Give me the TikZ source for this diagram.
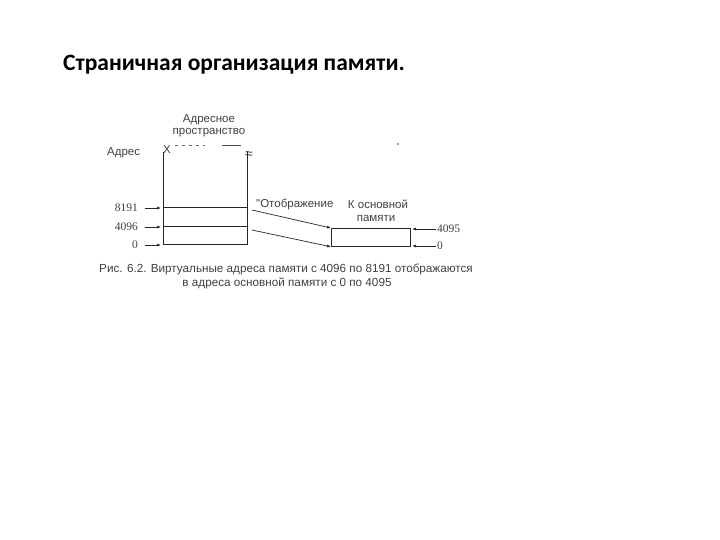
\documentclass[tikz,border=0pt]{standalone}
\usepackage{fontspec}
\setmainfont{Liberation Sans}
\newfontfamily\titlefont{Carlito}
\newfontfamily\numfont{Liberation Serif}
\usetikzlibrary{arrows.meta}
\begin{document}
\begin{tikzpicture}[x=1pt,y=-1pt,
  lbl/.style={inner sep=0pt,font=\fontsize{11.5}{13}\selectfont,text=black!75},
  num/.style={inner sep=0pt,font=\numfont\fontsize{11.5}{13}\selectfont,text=black!75},
  ln/.style={line width=0.8pt,black!85},
  arr/.style={-{Latex[length=4pt,width=3pt]},line width=0.7pt,black!85}]
\useasboundingbox (0,0) rectangle (720,540);
% title
\node[anchor=base west,inner sep=0pt,font=\titlefont\bfseries\fontsize{23.5}{26}\selectfont] (title) at (63,71) {Страничная организация памяти.};
% virtual space
\node[lbl] (hdr1) at (209,120) {Адресное};
\node[lbl] (hdr2) at (209,133) {пространство};
\draw[line width=0.6pt,black!60,dash pattern=on 3pt off 4pt] (175,145) -- (205,145);
\draw[line width=0.6pt,black!70] (222,145) -- (241,145);
\node[lbl,anchor=west] (adr) at (107,153) {Адрес};
\node[lbl] (X) at (167,150) {X};
\node[lbl,font=\fontsize{14}{14}\selectfont] (approx) at (249,155) {≈};
\coordinate (LT) at (163,152);
\coordinate (RT) at (247,152);
\coordinate (L8) at (163,207);
\coordinate (R8) at (247,207);
\coordinate (L4) at (163,226);
\coordinate (R4) at (247,226);
\coordinate (L0) at (163,244);
\coordinate (R0) at (247,244);
\draw[ln] (LT) -- (L0) -- (R0) -- (RT);
\draw[ln] (L8) -- (R8);
\draw[ln] (L4) -- (R4);
% left labels
\node[num,anchor=east] (n8191) at (138,208) {8191};
\node[num,anchor=east] (n4096) at (138,227) {4096};
\node[num,anchor=east] (n0) at (138,245) {0};
\draw[arr] (145,208) -- (161,208);
\draw[arr] (145,227) -- (161,227);
\draw[arr] (145,245) -- (161,245);
% physical memory
\node[draw,line width=0.8pt,black!85,minimum width=79pt,minimum height=18pt,inner sep=0pt,anchor=north west] (mem) at (331,228) {};
\node[lbl,anchor=west] (map) at (256,204) {\textquotedbl Отображение};
\node[lbl] (to1) at (378,204) {К основной};
\node[lbl] (to2) at (376,218) {памяти};
\draw[arr] (R8) ++(5,3) -- (mem.north west);
\draw[arr] (R4) ++(5,4) -- (mem.south west);
\node[num,anchor=west] (n4095) at (437,229) {4095};
\node[num,anchor=west] (m0) at (437,246) {0};
\draw[arr] (436,229) -- (412,229);
\draw[arr] (436,246) -- (412,246);
\fill[black!80] (398,144) circle (0.8pt);
% caption
\node[lbl,font=\fontsize{11.7}{13}\selectfont] (cap1) at (286,269) {Рис. 6.2. Виртуальные адреса памяти с 4096 по 8191 отображаются};
\node[lbl,font=\fontsize{11.7}{13}\selectfont] (cap2) at (287,283) {в адреса основной памяти с 0 по 4095};
\end{tikzpicture}
\end{document}
